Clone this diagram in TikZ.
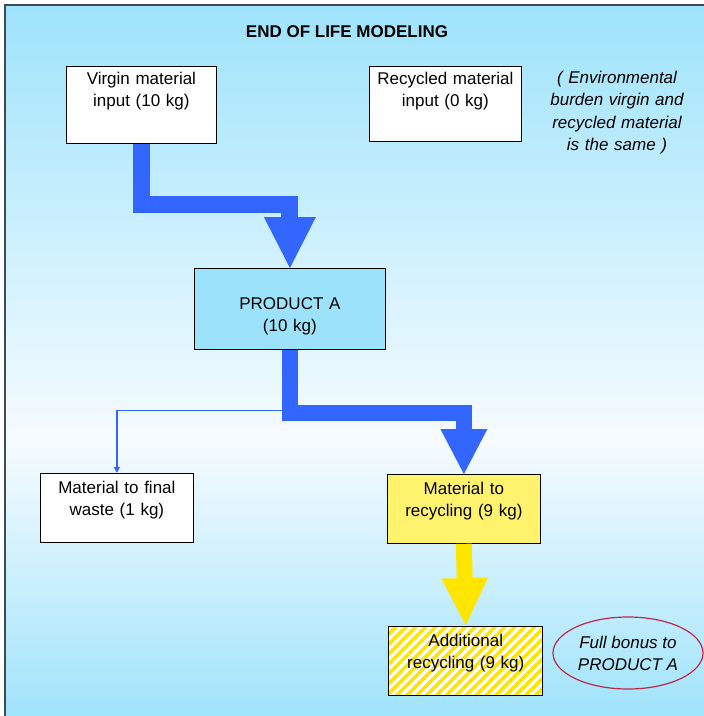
\documentclass[tikz,border=0pt]{standalone}
\usepackage{fontspec}
\setmainfont{Liberation Sans}
\usetikzlibrary{arrows.meta, patterns.meta, shapes.geometric}

\definecolor{bgblue}{RGB}{158,227,251}
\definecolor{bgwhite}{RGB}{246,251,255}
\definecolor{framegray}{RGB}{63,74,84}
\definecolor{productblue}{RGB}{156,226,250}
\definecolor{flowblue}{RGB}{51,102,255}
\definecolor{flowyellow}{RGB}{255,230,0}
\definecolor{boxyellow}{RGB}{255,243,110}
\definecolor{stripeyellow}{RGB}{255,228,0}
\definecolor{bonusred}{RGB}{190,40,70}

\tikzset{
  box/.style={draw=black, line width=0.8pt, inner sep=0pt, align=center, anchor=north west},
  whitebox/.style={box, fill=white},
  note/.style={font=\fontsize{17}{22.5}\selectfont\itshape, align=center, inner sep=0pt, anchor=base},
}

\begin{document}
\begin{tikzpicture}[x=1pt, y=-1pt, font=\fontsize{17}{22}\selectfont]
  \clip (0,0) rectangle (704,716);
  \fill[white] (0,0) rectangle (704,716);
  \shade[top color=bgblue, bottom color=bgwhite] (5,5) rectangle (710,440);
  \shade[top color=bgwhite, bottom color=bgblue] (5,440) rectangle (710,722);
  \draw[framegray, line width=2pt] (5,722) -- (5,5) -- (710,5);

  \node[font=\fontsize{17}{22}\selectfont\bfseries, anchor=base] (title) at (347,37) {END OF LIFE MODELING};

  \node[whitebox, text width=150pt, text height=18pt, text depth=59pt] (virgin) at (66,66) {Virgin material\\input (10 kg)};
  \node[whitebox, text width=152pt, text height=18pt, text depth=57pt] (recycled) at (369,66) {Recycled material\\input (0 kg)};
  \node[note, text width=150pt] (burden) at (617,83) {( Environmental\\burden virgin and\\recycled material\\is the same )};

  \node[box, fill=productblue, text width=191pt, text height=41pt, text depth=40pt] (product) at (194,268) {PRODUCT A\\(10 kg)};

  \node[whitebox, text width=153pt, text height=20pt, text depth=49pt] (waste) at (40,473) {Material to final\\waste (1 kg)};
  \node[box, fill=boxyellow, text width=153pt, text height=20pt, text depth=49pt] (recycling) at (387,474) {Material to\\recycling (9 kg)};
  \node[box, preaction={fill=white}, pattern={Lines[angle=45, distance=7pt, line width=3.5pt]}, pattern color=stripeyellow,
        text width=154pt, text height=20pt, text depth=49pt] (additional) at (387,625) {Additional\\recycling (9 kg)};

  \node[ellipse, draw=bonusred, line width=1.2pt, minimum width=150pt, minimum height=72pt, inner sep=0pt,
        font=\fontsize{17}{22}\selectfont\itshape, align=center] (bonus) at (628,653) {Full bonus to\\PRODUCT A};

  % flows
  \coordinate (split) at ([yshift=-61pt]product.south);
  \draw[flowblue, line width=1.3pt, -{Triangle[width=6pt, length=6pt]}] (split) -| (waste.north);
  \draw[flowblue, line width=17pt, -{Triangle[width=52pt, length=51pt, line width=0pt]}] (virgin.south) -- ++(0,61) -| (product.north);
  \draw[flowblue, line width=16pt, -{Triangle[width=47pt, length=45pt, line width=0pt]}] (product.south) -- ++(0,63) -| (recycling.north);
  \draw[flowyellow, line width=16pt, -{Triangle[width=47pt, length=47pt, line width=0pt]}] (recycling.south) -- (additional.north);
\end{tikzpicture}
\end{document}
